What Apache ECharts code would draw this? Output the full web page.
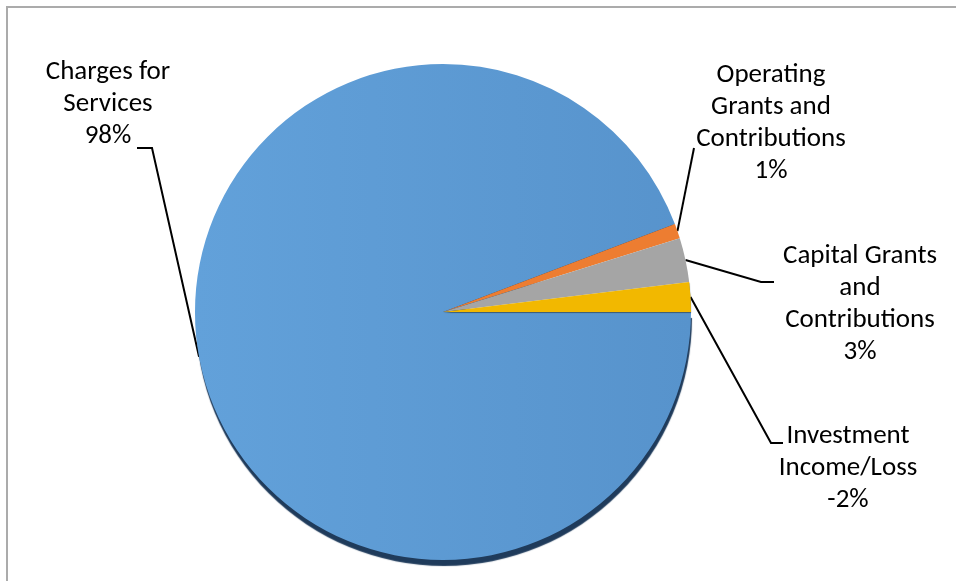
<!DOCTYPE html>
<html>
<head>
<meta charset="utf-8">
<script src="https://cdn.jsdelivr.net/npm/echarts@6/dist/echarts.min.js"></script>
<style>
html,body{margin:0;padding:0;background:#fff;}
#c{width:956px;height:581px;}
</style>
</head>
<body>
<div id="c"></div>
<script>
// Data
const categories = ["Charges for Services", "Operating Grants and Contributions", "Capital Grants and Contributions", "Investment Income/Loss"];
const labelText = ["Charges for\nServices", "Operating\nGrants and\nContributions", "Capital Grants\nand\nContributions", "Investment\nIncome/Loss"];
const percents = [98, 1, 3, -2];
const colors = ["#5b9bd5", "#ed7d31", "#a5a5a5", "#f2b800"];

// label placement (centers) and leader elbow points
const labelPos = [
  {x: 108, y: 104, elbow: [[152, 148], [137, 148]]},
  {x: 771, y: 123, elbow: [[694, 148]]},
  {x: 860, y: 304, elbow: [[761, 282], [774, 282]]},
  {x: 848, y: 468, elbow: [[771, 443], [783, 443]]}
];

const chart = echarts.init(document.getElementById('c'));
const data = categories.map((name, i) => ({
  name: name,
  value: Math.abs(percents[i]),
  itemStyle: i === 0 ? {
    color: {
      type: 'linear', x: 0, y: 0, x2: 1, y2: 0,
      colorStops: [{offset: 0, color: '#62a1da'}, {offset: 1, color: '#5793cc'}]
    },
    shadowColor: '#1f3b5b', shadowBlur: 1, shadowOffsetX: 1, shadowOffsetY: 6
  } : {
    color: colors[i],
    shadowColor: i === 3 ? '#3d5a6e' : 'rgba(0,0,0,0)',
    shadowBlur: 1, shadowOffsetX: 0, shadowOffsetY: i === 3 ? 1 : 0
  }
}));

chart.setOption({
  animation: false,
  backgroundColor: '#ffffff',
  graphic: [{
    type: 'rect',
    shape: {x: 7, y: 7, width: 1000, height: 700},
    style: {fill: 'none', stroke: '#ababab', lineWidth: 2},
    silent: true
  }],
  series: [{
    type: 'pie',
    center: [443, 312],
    radius: 248,
    startAngle: 0,
    clockwise: true,
    selectedMode: false,
    avoidLabelOverlap: false,
    data: data,
    itemStyle: {borderWidth: 0},
    emphasis: {disabled: true},
    label: {
      show: true,
      position: 'outside',
      fontFamily: 'Carlito, Lato, sans-serif',
      fontSize: 27,
      lineHeight: 32,
      color: '#000',
      align: 'center',
      formatter: p => labelText[p.dataIndex] + '\n' + percents[p.dataIndex] + '%'
    },
    labelLine: {
      show: true,
      lineStyle: {color: '#000', width: 2}
    },
    labelLayout: function (p) {
      const L = labelPos[p.dataIndex];
      const start = p.labelLinePoints ? p.labelLinePoints[0] : L.elbow[0];
      return {
        x: L.x,
        y: L.y,
        align: 'center',
        verticalAlign: 'middle',
        labelLinePoints: [start].concat(L.elbow)
      };
    }
  }]
});
</script>
</body>
</html>
